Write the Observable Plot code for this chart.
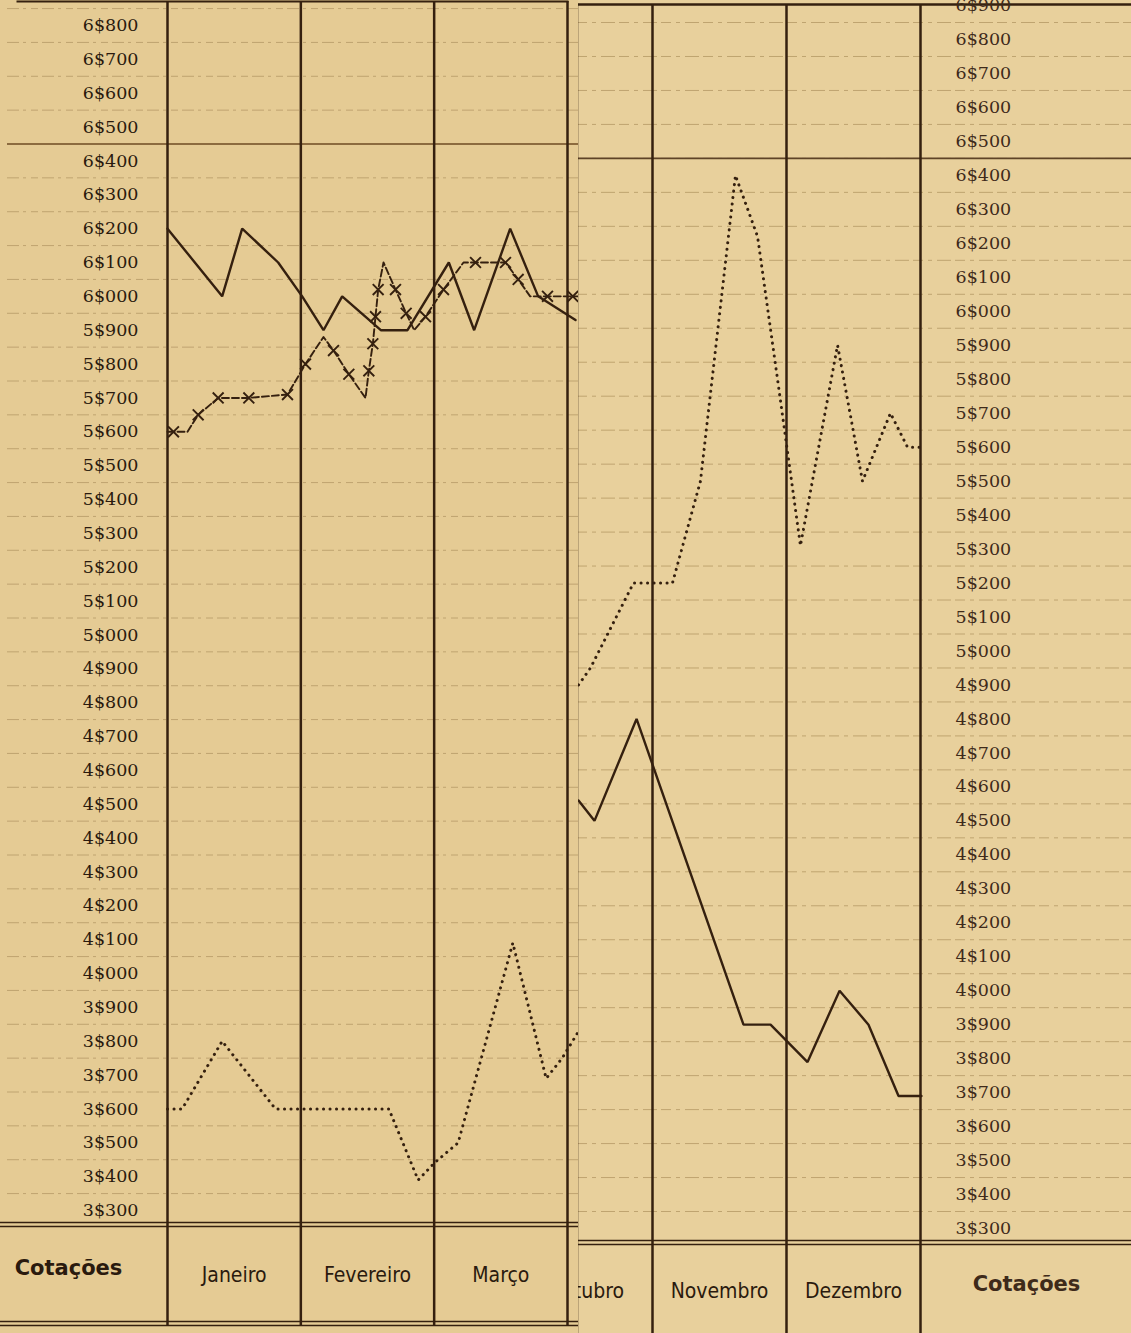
<!DOCTYPE html>
<html>
<head>
<meta charset="utf-8">
<script src="https://cdn.jsdelivr.net/npm/d3@7"></script>
<script src="https://cdn.jsdelivr.net/npm/@observablehq/plot@0.6"></script>
<style>
  html, body { margin: 0; padding: 0; background: #e6cd97; }
  #wrap { position: relative; width: 1131px; height: 1333px; overflow: hidden; }
  #right { position: absolute; left: 577px; top: 0; }
  #left { position: absolute; left: 0; top: 0; }
  svg { display: block; }
</style>
</head>
<body>
<div id="wrap"><div id="right"></div><div id="left"></div></div>
<script>
// ---------- DATA ----------
// x = position in months (0 = start of Janeiro, 10 = start of Novembro)
const monthsLeft = ["Janeiro", "Fevereiro", "Março"];
const monthsRight = ["Outubro", "Novembro", "Dezembro"];
const axisTitle = "Cotações";
const ticksLeft = d3.range(3300, 6801, 100);
const ticksRight = d3.range(3300, 6901, 100);
const gridLeft = d3.range(3350, 6851, 100);
const gridRight = d3.range(3350, 6851, 100);
const foldLine = [6450];

// left sheet (Janeiro – Março)
const solidLeftX = [0, 0.41, 0.56, 0.83, 1.01, 1.17, 1.31, 1.60, 1.80, 2.11, 2.30, 2.57, 2.78, 3.06];
const solidLeftY = [6200, 6000, 6200, 6100, 6000, 5900, 6000, 5900, 5900, 6100, 5900, 6200, 6000, 5930];

const dottedLeftX = [0, 0.11, 0.41, 0.81, 1.66, 1.88, 2.0, 2.18, 2.59, 2.84, 2.96, 3.10];
const dottedLeftY = [3600, 3600, 3800, 3600, 3600, 3390, 3440, 3500, 4090, 3690, 3750, 3840];

const crossLeftX = [0, 0.045, 0.15, 0.23, 0.38, 0.61, 0.90, 1.035, 1.17, 1.245, 1.36, 1.485, 1.51, 1.54, 1.56, 1.58, 1.62, 1.71, 1.79, 1.85, 1.935, 2.07, 2.22, 2.31, 2.535, 2.63, 2.72, 2.85, 3.04, 3.08];
const crossLeftY = [5600, 5600, 5600, 5650, 5700, 5700, 5710, 5800, 5880, 5840, 5770, 5700, 5780, 5860, 5940, 6020, 6100, 6020, 5950, 5900, 5940, 6020, 6100, 6100, 6100, 6050, 6000, 6000, 6000, 6000];
const crossLeftMark = [0, 1, 0, 1, 1, 1, 1, 1, 0, 1, 1, 0, 1, 1, 1, 1, 0, 1, 1, 0, 1, 1, 0, 1, 1, 1, 0, 1, 1, 0];

// right sheet (Outubro – Dezembro)
const dottedRightX = [9.448, 9.537, 9.858, 10.149, 10.358, 10.619, 10.784, 10.940, 11.104, 11.381, 11.567, 11.776, 11.903, 11.993];
const dottedRightY = [4900, 4950, 5200, 5200, 5500, 6400, 6220, 5780, 5310, 5900, 5500, 5700, 5600, 5600];

const solidRightX = [9.448, 9.567, 9.881, 10.679, 10.881, 11.157, 11.396, 11.612, 11.836, 12.007];
const solidRightY = [4560, 4500, 4800, 3900, 3900, 3790, 4000, 3900, 3690, 3690];

// ---------- HELPERS ----------
const pts = (xs, ys, extra) => xs.map((x, i) => ({x, y: ys[i], m: extra ? extra[i] : 1}));
const fmt = v => `${Math.floor(v / 1000)}$${String(v % 1000).padStart(3, "0")}`;
const ink = "#35200f";
const labelInk = "#2a1a0e";
const gridColor = "#bfa470";
const serif = "'DejaVu Serif', 'Liberation Serif', serif";
const narrow = "'Liberation Sans Narrow', 'DejaVu Sans Condensed', 'Roboto Condensed', sans-serif";
const boldSans = "'DejaVu Sans', sans-serif";

const solidStyle = {x: "x", y: "y", stroke: ink, strokeWidth: 2.4, strokeLinejoin: "miter"};
const dotStyle = {x: "x", y: "y", stroke: ink, strokeWidth: 3, strokeDasharray: "0.1,6.4", strokeLinecap: "round"};

// ---------- LEFT SHEET ----------
const L = Plot.plot({
  width: 578, height: 1333,
  marginLeft: 167, marginRight: 11, marginTop: 1, marginBottom: 111,
  x: {domain: [0, 3], range: [167, 567]},
  y: {domain: [3300, 6800], range: [1210, 25]},
  style: {background: "#e5cb94", color: ink, overflow: "hidden"},
  marks: [
    Plot.ruleY(gridLeft, {stroke: gridColor, strokeWidth: 1, strokeDasharray: "12,4,3,5,7,4", insetLeft: -160, insetRight: -11}),
    Plot.ruleY(foldLine, {stroke: "#8c6b3f", strokeWidth: 2.2, insetLeft: -160, insetRight: -11}),
    Plot.frame({anchor: "top", stroke: ink, strokeWidth: 2, insetLeft: -150}),
    Plot.frame({anchor: "bottom", stroke: ink, strokeWidth: 1.5, insetLeft: -167, insetRight: -11}),
    Plot.frame({anchor: "bottom", stroke: ink, strokeWidth: 1.5, dy: 4, insetLeft: -167, insetRight: -11}),
    Plot.frame({anchor: "bottom", stroke: ink, strokeWidth: 1.5, dy: 99, insetLeft: -167, insetRight: -11}),
    Plot.frame({anchor: "bottom", stroke: ink, strokeWidth: 1.5, dy: 103, insetLeft: -167, insetRight: -11}),
    Plot.ruleX([0, 1, 2, 3], {stroke: ink, strokeWidth: 2.5, insetBottom: -103}),
    Plot.axisY(ticksLeft, {anchor: "left", tickSize: 0, tickPadding: 29, tickFormat: fmt, label: null,
      fontSize: 17.5, fontFamily: serif, fill: labelInk}),
    Plot.axisX([0.5, 1.5, 2.5], {anchor: "bottom", tickSize: 0, tickPadding: 45, label: null,
      tickFormat: d => monthsLeft[Math.floor(d)], fontSize: 21, fontFamily: narrow, fill: labelInk}),
    Plot.text([axisTitle], {frameAnchor: "bottom-left", dx: -99, dy: 52, textAnchor: "middle",
      fontSize: 21, fontWeight: "bold", fontFamily: boldSans, fill: labelInk}),
    Plot.line(pts(dottedLeftX, dottedLeftY), dotStyle),
    Plot.line(pts(solidLeftX, solidLeftY), solidStyle),
    Plot.line(pts(crossLeftX, crossLeftY), {x: "x", y: "y", stroke: ink, strokeWidth: 1.9, strokeDasharray: "7,3"}),
    Plot.dot(pts(crossLeftX, crossLeftY, crossLeftMark).filter(d => d.m), {x: "x", y: "y", symbol: "times", r: 5, stroke: ink, strokeWidth: 1.9})
  ]
});
document.getElementById("left").appendChild(L);

// ---------- RIGHT SHEET ----------
const R = Plot.plot({
  width: 554, height: 1333,
  marginLeft: 0, marginRight: 211, marginTop: 4, marginBottom: 93,
  x: {domain: [10, 12], range: [75, 343]},
  y: {domain: [3300, 6800], range: [1228, 39]},
  style: {background: "#e8d09c", color: ink, overflow: "hidden"},
  marks: [
    Plot.ruleY(gridRight, {stroke: gridColor, strokeWidth: 1, strokeDasharray: "10,5,4,5,14,4", insetRight: -211}),
    Plot.ruleY(foldLine, {stroke: "#5e4327", strokeWidth: 1.6, insetRight: -211}),
    Plot.frame({anchor: "top", stroke: ink, strokeWidth: 2.5, insetRight: -211}),
    Plot.frame({anchor: "left", stroke: ink, strokeWidth: 1.5, insetBottom: -93}),
    Plot.frame({anchor: "bottom", stroke: ink, strokeWidth: 1.5, insetRight: -211}),
    Plot.frame({anchor: "bottom", stroke: ink, strokeWidth: 1.5, dy: 4, insetRight: -211}),
    Plot.ruleX([10, 11, 12], {stroke: ink, strokeWidth: 2.5, insetBottom: -93}),
    Plot.axisY(ticksRight, {anchor: "right", tickSize: 0, tickPadding: 35, tickFormat: fmt, label: null,
      fontSize: 17.5, fontFamily: serif, fill: "#3e2a1a"}),
    Plot.axisX([9.5, 10.5, 11.5], {anchor: "bottom", tickSize: 0, tickPadding: 43, label: null,
      tickFormat: d => monthsRight[Math.floor(d) - 9], fontSize: 21, fontFamily: narrow, fill: labelInk}),
    Plot.text([axisTitle], {frameAnchor: "bottom-right", dx: 106, dy: 50, textAnchor: "middle",
      fontSize: 21, fontWeight: "bold", fontFamily: boldSans, fill: "#3e2a1a"}),
    Plot.line(pts(dottedRightX, dottedRightY), dotStyle),
    Plot.line(pts(solidRightX, solidRightY), solidStyle)
  ]
});
document.getElementById("right").appendChild(R);
</script>
</body>
</html>
